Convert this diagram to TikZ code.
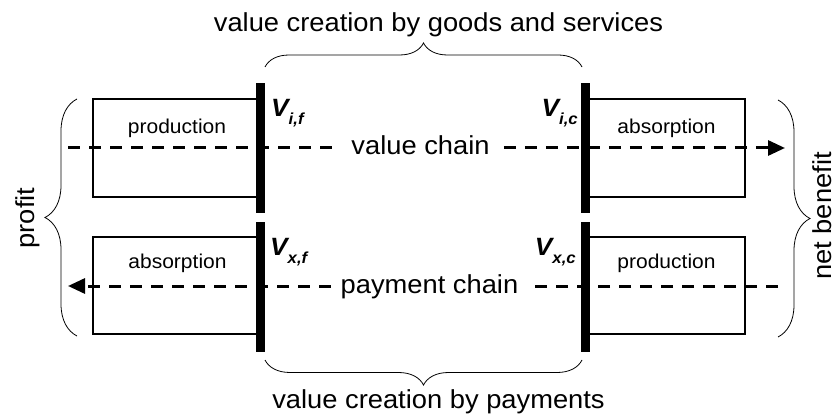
\documentclass[tikz,border=0pt]{standalone}
\usepackage{fontspec}
\setmainfont{Liberation Sans}[FakeStretch=1.05]
\usetikzlibrary{arrows.meta,decorations.pathreplacing}
\tikzset{
  box/.style={draw,line width=1.3pt,inner sep=0pt},
  boxtext/.style={anchor=base,inner sep=0pt,font=\fontsize{20}{22}\selectfont},
  biglabel/.style={inner sep=0pt,font=\fontsize{26}{28}\selectfont},
  vlabel/.style={inner sep=0pt,font=\fontsize{25}{27}\selectfont\bfseries\itshape},
  chainline/.style={line width=3pt,dash pattern=on 12pt off 9pt},
  chainarrow/.style={chainline,-{Triangle[length=17pt,width=15pt]}},
  bracedeco/.style={decorate,decoration={brace,amplitude=#1},line width=0.8pt},
  bar/.style={fill=black,inner sep=0pt,minimum width=9pt,minimum height=130pt},
}
\newcommand\vsub[1]{\raisebox{-8pt}{\fontsize{16}{16}\selectfont #1}}
\begin{document}
\begin{tikzpicture}[x=1pt,y=-1pt]
\useasboundingbox (0,0) rectangle (835,414);
% boxes
\node[box,minimum width=165pt,minimum height=98pt] (bpf) at (175.5,148) {};
\node[box,minimum width=157pt,minimum height=98pt] (bac) at (666.5,148) {};
\node[box,minimum width=165pt,minimum height=97pt] (baf) at (175.5,285.5) {};
\node[box,minimum width=157pt,minimum height=97pt] (bpc) at (666.5,285.5) {};
\node[boxtext] (tpf) at (177,134) {production};
\node[boxtext] (tac) at (666.5,134) {absorption};
\node[boxtext] (taf) at (177.5,268) {absorption};
\node[boxtext] (tpc) at (666.5,268) {production};
% bars
\node[bar] (barif) at (260.5,148) {};
\node[bar] (baric) at (585.5,148) {};
\node[bar] (barxf) at (260.5,287) {};
\node[bar] (barxc) at (585.5,287) {};
% value chain
\coordinate (vs) at (68,148);
\coordinate (ve) at (785,148);
\node[biglabel,anchor=base,inner xsep=14pt] (vch) at (420.5,155) {value chain};
\draw[chainline] (vs) -- (vs -| vch.west);
\draw[chainarrow] (vs -| vch.east) -- (ve);
% payment chain
\coordinate (ps) at (778,286);
\coordinate (pe) at (68,286);
\node[biglabel,anchor=base,inner xsep=10pt] (pch) at (429.5,293) {payment chain};
\draw[chainline] (ps) -- (ps -| pch.east);
\draw[chainarrow] (pe -| pch.west) -- (pe);
% braces
\coordinate (t1) at (265,67);
\coordinate (t2) at (582,67);
\draw[bracedeco=24pt] (t1) -- (t2);
\node[biglabel,anchor=base] (ttop) at (438.5,32) {value creation by goods and services};
\coordinate (b1) at (265,360);
\coordinate (b2) at (582,360);
\draw[bracedeco=25pt] (b2) -- (b1);
\node[biglabel,anchor=base] (tbot) at (438.5,408) {value creation by payments};
\coordinate (l1) at (77,99);
\coordinate (l2) at (77,336);
\draw[bracedeco=32pt] (l2) -- (l1);
\node[biglabel,rotate=90,anchor=base] (tprofit) at (34,218) {profit};
\coordinate (r1) at (778,100);
\coordinate (r2) at (778,337);
\draw[bracedeco=32pt] (r1) -- (r2);
\node[biglabel,rotate=90,anchor=base] (tnet) at (831,216) {net benefit};
% V labels
\node[vlabel,anchor=base west] (vif) at (271,116.7) {V\vsub{i,f}};
\node[vlabel,anchor=base east] (vic) at (578,116.7) {V\vsub{i,c}};
\node[vlabel,anchor=base west] (vxf) at (270,255) {V\vsub{x,f}};
\node[vlabel,anchor=base east] (vxc) at (576,255) {V\vsub{x,c}};
\end{tikzpicture}
\end{document}
